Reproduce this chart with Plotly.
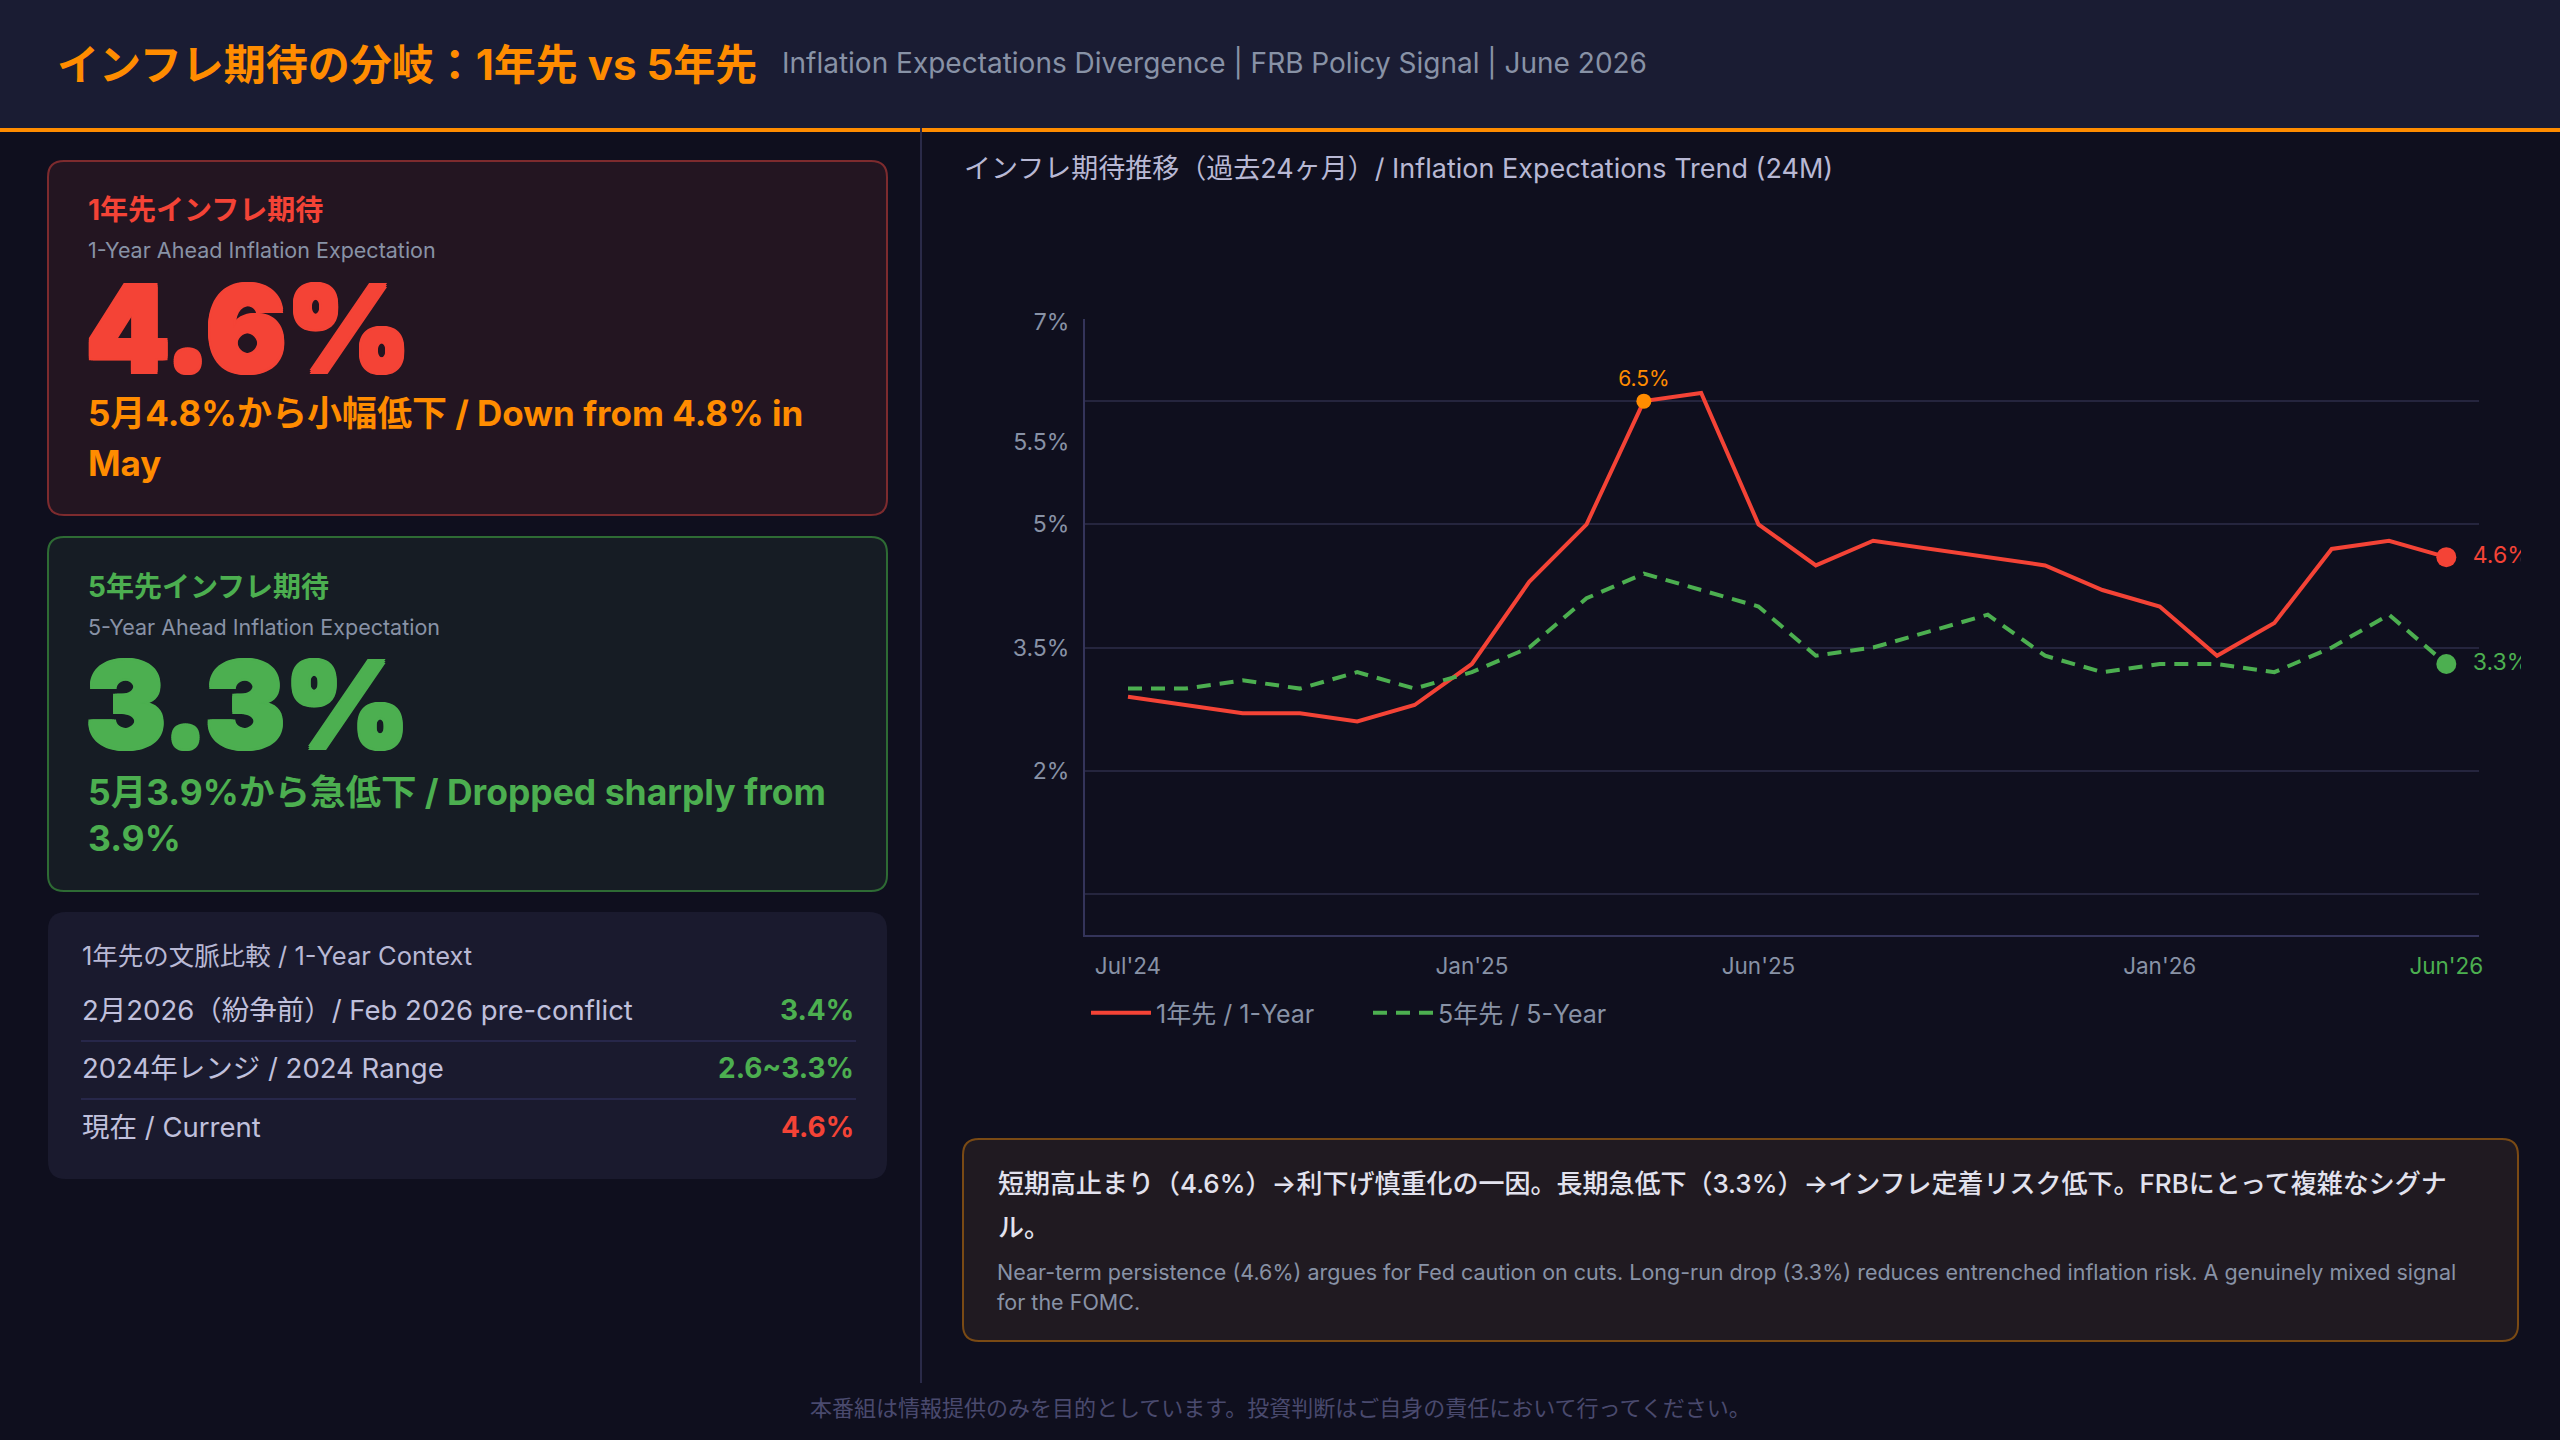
import plotly.graph_objects as go

W, H = 2560, 1440
FONT = "Inter, 'Noto Sans CJK JP'"
BIG_FONT = "Inter, Roboto"

# ---------------- data ----------------
months = ["Jul'24", "Aug'24", "Sep'24", "Oct'24", "Nov'24", "Dec'24",
          "Jan'25", "Feb'25", "Mar'25", "Apr'25", "May'25", "Jun'25",
          "Jul'25", "Aug'25", "Sep'25", "Oct'25", "Nov'25", "Dec'25",
          "Jan'26", "Feb'26", "Mar'26", "Apr'26", "May'26", "Jun'26"]
one_year = [2.9, 2.8, 2.7, 2.7, 2.6, 2.8, 3.3, 4.3, 5.0, 6.5, 6.6, 5.0,
            4.5, 4.8, 4.7, 4.6, 4.5, 4.2, 4.0, 3.4, 3.8, 4.7, 4.8, 4.6]
five_year = [3.0, 3.0, 3.1, 3.0, 3.2, 3.0, 3.2, 3.5, 4.1, 4.4, 4.2, 4.0,
             3.4, 3.5, 3.7, 3.9, 3.4, 3.2, 3.3, 3.3, 3.2, 3.5, 3.9, 3.3]
series_names = ["1年先 / 1-Year", "5年先 / 5-Year"]
peak_month = "Apr'25"
peak_label = "6.5%"

x_tick_labels = ["Jul'24", "Jan'25", "Jun'25", "Jan'26", "Jun'26"]
y_tick_vals = [2, 3.5, 5, 6, 7.46]
y_tick_text = ["2%", "3.5%", "5%", "5.5%", "7%"]
y_grid_vals = [0.5, 2, 3.5, 5, 6.5]

context_labels = ["2月2026（紛争前）/ Feb 2026 pre-conflict",
                  "2024年レンジ / 2024 Range",
                  "現在 / Current"]
context_values = ["3.4%", "2.6~3.3%", "4.6%"]

# ---------------- colours ----------------
BG = "#0f0f1e"
HEADER = "#1a1c33"
ORANGE = "#ff8c00"
RED = "#f44336"
GREEN = "#4caf50"
GRAY = "#8892a6"
LAV = "#b8b8d4"
GRID = "#25253e"
AXIS = "#34345a"
NB = "\u00a0"


def px(x):
    return x / W


def py(y):
    return 1 - y / H


def rrect(x0, y0, x1, y1, r, fill, line=None, lw=0):
    pts = [
        f"M {px(x0 + r)},{py(y0)}",
        f"L {px(x1 - r)},{py(y0)}",
        f"Q {px(x1)},{py(y0)} {px(x1)},{py(y0 + r)}",
        f"L {px(x1)},{py(y1 - r)}",
        f"Q {px(x1)},{py(y1)} {px(x1 - r)},{py(y1)}",
        f"L {px(x0 + r)},{py(y1)}",
        f"Q {px(x0)},{py(y1)} {px(x0)},{py(y1 - r)}",
        f"L {px(x0)},{py(y0 + r)}",
        f"Q {px(x0)},{py(y0)} {px(x0 + r)},{py(y0)} Z",
    ]
    return dict(type="path", xref="paper", yref="paper", path=" ".join(pts),
                fillcolor=fill, line=dict(color=line or fill, width=lw),
                layer="below")


def rect(x0, y0, x1, y1, fill, layer="below"):
    return dict(type="rect", xref="paper", yref="paper",
                x0=px(x0), x1=px(x1), y0=py(y1), y1=py(y0),
                fillcolor=fill, line=dict(width=0), layer=layer)


def txt(x, y, s, size, color, weight="normal", xanchor="left", family=FONT, shadow=None):
    f = dict(family=family, size=size, color=color, weight=weight)
    if shadow:
        f["shadow"] = shadow
    return dict(x=px(x), y=py(y), xref="paper", yref="paper", text=s,
                showarrow=False, xanchor=xanchor, yanchor="middle", font=f)


def thick(c):
    return f"2px 0 0 {c}, -2px 0 0 {c}, 0 2px 0 {c}, 0 -2px 0 {c}, 2px 2px 0 {c}, -2px -2px 0 {c}, 2px -2px 0 {c}, -2px 2px 0 {c}"


fig = go.Figure()

fig.add_trace(go.Scatter(x=months, y=one_year, mode="lines", name=series_names[0],
                         line=dict(color=RED, width=4), cliponaxis=False))
fig.add_trace(go.Scatter(x=months, y=five_year, mode="lines", name=series_names[1],
                         line=dict(color=GREEN, width=4, dash="14px,9px"),
                         cliponaxis=False))
pi = months.index(peak_month)
fig.add_trace(go.Scatter(x=[months[pi]], y=[one_year[pi]], mode="markers+text",
                         marker=dict(color=ORANGE, size=15), text=[peak_label],
                         textposition="top center",
                         textfont=dict(family=FONT, size=21, color=ORANGE),
                         showlegend=False, cliponaxis=False))
fig.add_trace(go.Scatter(x=[months[-1]], y=[one_year[-1]], mode="markers+text",
                         marker=dict(color=RED, size=20),
                         text=[f"{NB}{NB}{one_year[-1]}%"], textposition="middle right",
                         textfont=dict(family=FONT, size=23, color=RED),
                         showlegend=False, cliponaxis=False))
fig.add_trace(go.Scatter(x=[months[-1]], y=[five_year[-1]], mode="markers+text",
                         marker=dict(color=GREEN, size=20),
                         text=[f"{NB}{NB}{five_year[-1]}%"], textposition="middle right",
                         textfont=dict(family=FONT, size=23, color=GREEN),
                         showlegend=False, cliponaxis=False))

x_tick_text = [t if t != months[-1] else f"<span style='color:{GREEN}'>{t}</span>"
               for t in x_tick_labels]

shapes = [
    rect(0, 0, W, 128, HEADER),
    rect(0, 128, W, 132, ORANGE),
    rect(920, 128, 922, 1383, "#2a2a48", layer="above"),
    # cards
    rrect(48, 161, 887, 515, 16, "#231521", "#7d2b2e", 2),
    rrect(48, 537, 887, 891, 16, "#161c24", "#2e6b34", 2),
    rrect(48, 912, 887, 1179, 18, "#1a1a2e"),
    rect(81, 1040, 856, 1042, "#27274a"),
    rect(81, 1098, 856, 1100, "#27274a"),
    # insight box
    rrect(963, 1139, 2518, 1341, 16, "#201a21", "#7a4a14", 2),
    # clip area right of chart container
    rect(2521, 300, W, 1000, BG, layer="above"),
]

ann = [
    txt(55, 65, "インフレ期待の分岐：1年先 vs 5年先", 42, ORANGE, "bold"),
    txt(780, 63, "Inflation Expectations Divergence | FRB Policy Signal | June 2026", 28, GRAY),
    # card 1
    txt(86, 210, "1年先インフレ期待", 28, RED, "bold"),
    txt(86, 250, "1-Year Ahead Inflation Expectation", 21.5, GRAY),
    txt(84, 329, f"{one_year[-1]}%", 119, RED, 900, family=BIG_FONT, shadow=thick(RED)),
    txt(86, 413, f"5月{one_year[-2]}%から小幅低下 / Down from {one_year[-2]}% in", 35, ORANGE, "bold"),
    txt(86, 463, "May", 35, ORANGE, "bold"),
    # card 2
    txt(86, 587, "5年先インフレ期待", 28, GREEN, "bold"),
    txt(86, 627, "5-Year Ahead Inflation Expectation", 21.5, GRAY),
    txt(84, 705, f"{five_year[-1]}%", 119, GREEN, 900, family=BIG_FONT, shadow=thick(GREEN)),
    txt(86, 792, f"5月{five_year[-2]}%から急低下 / Dropped sharply from", 35.5, GREEN, "bold"),
    txt(86, 838, f"{five_year[-2]}%", 35.5, GREEN, "bold"),
    # card 3
    txt(80, 955, "1年先の文脈比較 / 1-Year Context", 25.5, LAV),
    # right panel
    txt(962, 168, "インフレ期待推移（過去24ヶ月）/ Inflation Expectations Trend (24M)", 27, LAV),
    txt(996, 1183, "短期高止まり（4.6%）→利下げ慎重化の一因。長期急低下（3.3%）→インフレ定着リスク低下。FRBにとって複雑なシグナ", 26, "#e2e2ee", 500),
    txt(996, 1227, "ル。", 26, "#e2e2ee", 500),
    txt(995, 1272, "Near-term persistence (4.6%) argues for Fed caution on cuts. Long-run drop (3.3%) reduces entrenched inflation risk. A genuinely mixed signal", 21.5, GRAY),
    txt(995, 1302, "for the FOMC.", 21.5, GRAY),
    txt(1280, 1408, "本番組は情報提供のみを目的としています。投資判断はご自身の責任において行ってください。", 22, "#4a4a6e", xanchor="center"),
]
row_y = [1010, 1068, 1127]
row_col = [GREEN, GREEN, RED]
for lab, val, yy, cc in zip(context_labels, context_values, row_y, row_col):
    ann.append(txt(80, yy, lab, 27.5, "#c0c0dc"))
    ann.append(txt(856, yy, val, 28, cc, "bold", xanchor="right"))

fig.update_layout(
    width=W, height=H, margin=dict(l=0, r=0, t=0, b=0, autoexpand=False),
    paper_bgcolor=BG, plot_bgcolor=BG,
    shapes=shapes, annotations=ann,
    font=dict(family=FONT),
    showlegend=True,
    legend=dict(orientation="h", x=px(1086), y=py(1013), xanchor="left", yanchor="middle",
                font=dict(family=FONT, size=25, color=GRAY), bgcolor="rgba(0,0,0,0)",
                entrywidth=207, entrywidthmode="pixels", itemwidth=60),
    xaxis=dict(domain=[px(1085), px(2479)], type="category", range=[-0.75, 23.57],
               tickmode="array", tickvals=x_tick_labels, ticktext=x_tick_text,
               showgrid=False, showline=True, linecolor=AXIS, linewidth=2,
               ticks="", ticklabelstandoff=10, zeroline=False, automargin=False,
               tickfont=dict(family=FONT, size=22.5, color=GRAY)),
    yaxis=dict(domain=[py(935), py(319)], range=[0, 7.5],
               tickmode="array", tickvals=y_tick_vals, ticktext=y_tick_text,
               showgrid=False, showline=True, linecolor=AXIS, linewidth=2,
               zeroline=False, ticks="", ticklabelstandoff=9, automargin=False,
               tickfont=dict(family=FONT, size=23, color=GRAY),
               minor=dict(tickmode="array", tickvals=y_grid_vals, showgrid=True,
                          gridcolor=GRID, gridwidth=2, ticks="")),
)

fig.write_html("out.html")
